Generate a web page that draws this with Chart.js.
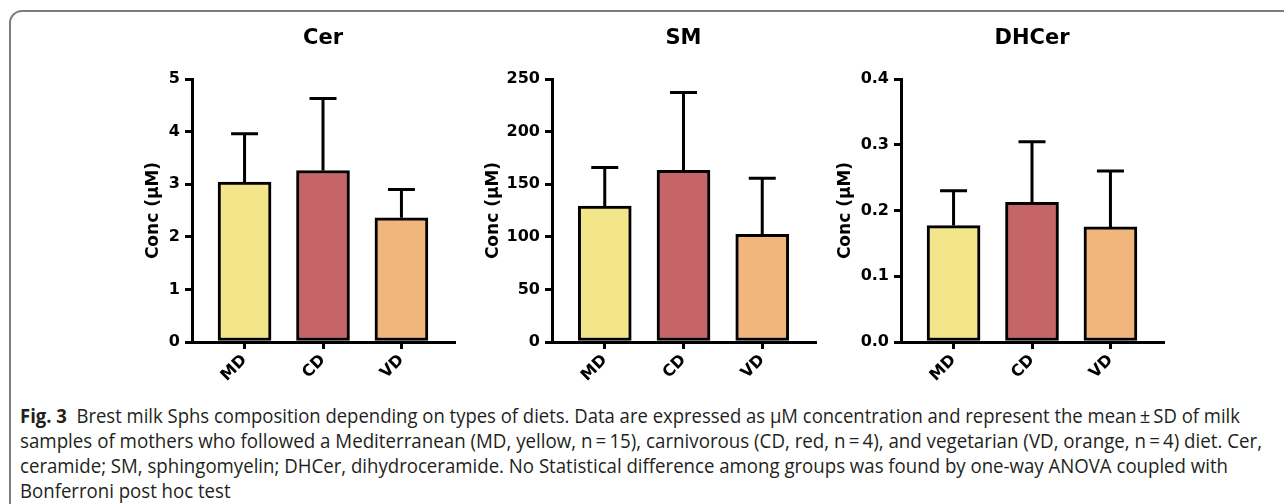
<!DOCTYPE html>
<html>
<head>
<meta charset="utf-8">
<script src="https://cdn.jsdelivr.net/npm/chart.js@4.4.1/dist/chart.umd.min.js"></script>
<style>
  body { margin: 0; background: #fff; width: 1284px; height: 504px; overflow: hidden; position: relative; }
  .frame { position: absolute; left: 9px; top: 10px; width: 1320px; height: 540px; border: 2px solid #7d7d7d; border-radius: 13px; box-sizing: border-box; }
  canvas { position: absolute; top: 0; }
  .cap { position: absolute; left: 20px; white-space: nowrap; font-family: "Open Sans", "Liberation Sans", sans-serif; font-size: 20px; line-height: 25px; color: #231f20; transform-origin: 0 0; }
  .cap b { font-weight: bold; }
</style>
</head>
<body>
<div class="frame"></div>
<canvas id="cerChart" width="335" height="400" style="left:139px"></canvas>
<canvas id="smChart" width="356" height="400" style="left:479px"></canvas>
<canvas id="dhcerChart" width="352" height="400" style="left:831px"></canvas>

<div class="cap" id="cap1" style="top:403px"><b>Fig. 3</b>&nbsp; Brest milk Sphs composition depending on types of diets. Data are expressed as µM concentration and represent the mean&thinsp;±&thinsp;SD of milk</div>
<div class="cap" id="cap2" style="top:428px">samples of mothers who followed a Mediterranean (MD, yellow, n&thinsp;=&thinsp;15), carnivorous (CD, red, n&thinsp;=&thinsp;4), and vegetarian (VD, orange, n&thinsp;=&thinsp;4) diet. Cer,</div>
<div class="cap" id="cap3" style="top:453px">ceramide; SM, sphingomyelin; DHCer, dihydroceramide. No Statistical difference among groups was found by one-way ANOVA coupled with</div>
<div class="cap" id="cap4" style="top:478px">Bonferroni post hoc test</div>

<script>
// groups and colours
const groups = ['MD', 'CD', 'VD'];
const barColors = ['rgb(243,229,138)', 'rgb(198,101,104)', 'rgb(240,182,124)'];

// mean and SD
const cerMean = [3.04, 3.26, 2.36];
const cerSd = [0.92, 1.37, 0.54];
const smMean = [129.3, 163.3, 102.3];
const smSd = [36.5, 73.9, 53.4];
const dhcerMean = [0.177, 0.2125, 0.175];
const dhcerSd = [0.053, 0.092, 0.085];

// y axis ranges: min, max, step
const cerTicks = [0, 5, 1];
const smTicks = [0, 250, 50];
const dhcerTicks = [0, 0.4, 0.1];

const FONT = 'DejaVu Sans';

// draws the upper half of the SD bar on each column
const errorBarPlugin = {
    id: 'errorBars',
    afterDatasetsDraw(chart) {
        const ds = chart.data.datasets[0];
        const xs = chart.scales.x, ys = chart.scales.y;
        const ctx = chart.ctx;
        ctx.save();
        ctx.strokeStyle = '#000';
        ctx.lineWidth = 3;
        ctx.lineCap = 'butt';
        ds.data.forEach((pt, i) => {
            const x = xs.getPixelForValue(pt.x);
            const yBar = ys.getPixelForValue(pt.y);
            const yTop = ys.getPixelForValue(pt.y + ds.sd[i]);
            ctx.beginPath();
            ctx.moveTo(x, yBar);
            ctx.lineTo(x, yTop);
            ctx.moveTo(x - 13.5, yTop);
            ctx.lineTo(x + 13.5, yTop);
            ctx.stroke();
        });
        ctx.restore();
    }
};

function makeChart(canvasId, title, means, sds, range, yWidth, decimals) {
    const canvas = document.getElementById(canvasId);
    return new Chart(canvas, {
        type: 'bar',
        data: {
            datasets: [{
                data: means.map((v, i) => ({ x: i, y: v })),
                sd: sds,
                backgroundColor: barColors,
                borderColor: '#000',
                borderWidth: 3,
                borderSkipped: false,
                barThickness: 53
            }]
        },
        options: {
            responsive: false,
            animation: false,
            layout: { padding: { left: 0, right: 20, top: 0, bottom: 0 } },
            plugins: {
                legend: { display: false },
                tooltip: { enabled: false },
                title: {
                    display: true, text: title, color: '#000', fullSize: false,
                    font: { family: FONT, size: 21, weight: 'bold', lineHeight: 1.2 },
                    padding: { top: 26, bottom: 27.8 }
                }
            },
            scales: {
                x: {
                    type: 'linear', min: -0.67, max: 2.67, offset: false,
                    afterBuildTicks: (s) => { s.ticks = groups.map((g, i) => ({ value: i })); },
                    afterFit: (s) => { s.height = 58; },
                    border: { display: true, color: '#000', width: 3 },
                    grid: { offset: false, drawOnChartArea: false, drawTicks: true, tickLength: 7, color: '#000', lineWidth: 3 },
                    ticks: {
                        color: '#000', minRotation: 45, maxRotation: 45, padding: 2, autoSkip: false,
                        font: { family: FONT, size: 16, weight: 'bold' },
                        callback: (v) => groups[v]
                    }
                },
                y: {
                    min: range[0], max: range[1],
                    afterFit: (s) => { s.width = yWidth; },
                    border: { display: true, color: '#000', width: 3 },
                    grid: { drawOnChartArea: false, drawTicks: true, tickLength: 7, color: '#000', lineWidth: 3 },
                    ticks: {
                        stepSize: range[2], color: '#000', padding: 5,
                        font: { family: FONT, size: 16, weight: 'bold' },
                        callback: (v) => v.toFixed(decimals)
                    },
                    title: {
                        display: true, text: 'Conc (µM)', color: '#000',
                        font: { family: FONT, size: 17, weight: 'bold', lineHeight: 1.2 },
                        padding: { top: 4, bottom: 7 }
                    }
                }
            }
        },
        plugins: [errorBarPlugin]
    });
}

makeChart('cerChart', 'Cer', cerMean, cerSd, cerTicks, 53, 0);
makeChart('smChart', 'SM', smMean, smSd, smTicks, 73, 0);
makeChart('dhcerChart', 'DHCer', dhcerMean, dhcerSd, dhcerTicks, 70, 1);

// squeeze caption lines to the widths of the original
const capTargets = [1220, 1242, 1208];
const factors = [];
capTargets.forEach((w, i) => {
    const el = document.getElementById('cap' + (i + 1));
    const f = w / el.getBoundingClientRect().width;
    factors.push(f);
    el.style.transform = 'scaleX(' + f + ')';
});
const avgF = factors.reduce((a, b) => a + b, 0) / factors.length;
document.getElementById('cap4').style.transform = 'scaleX(' + avgF + ')';
</script>
</body>
</html>
